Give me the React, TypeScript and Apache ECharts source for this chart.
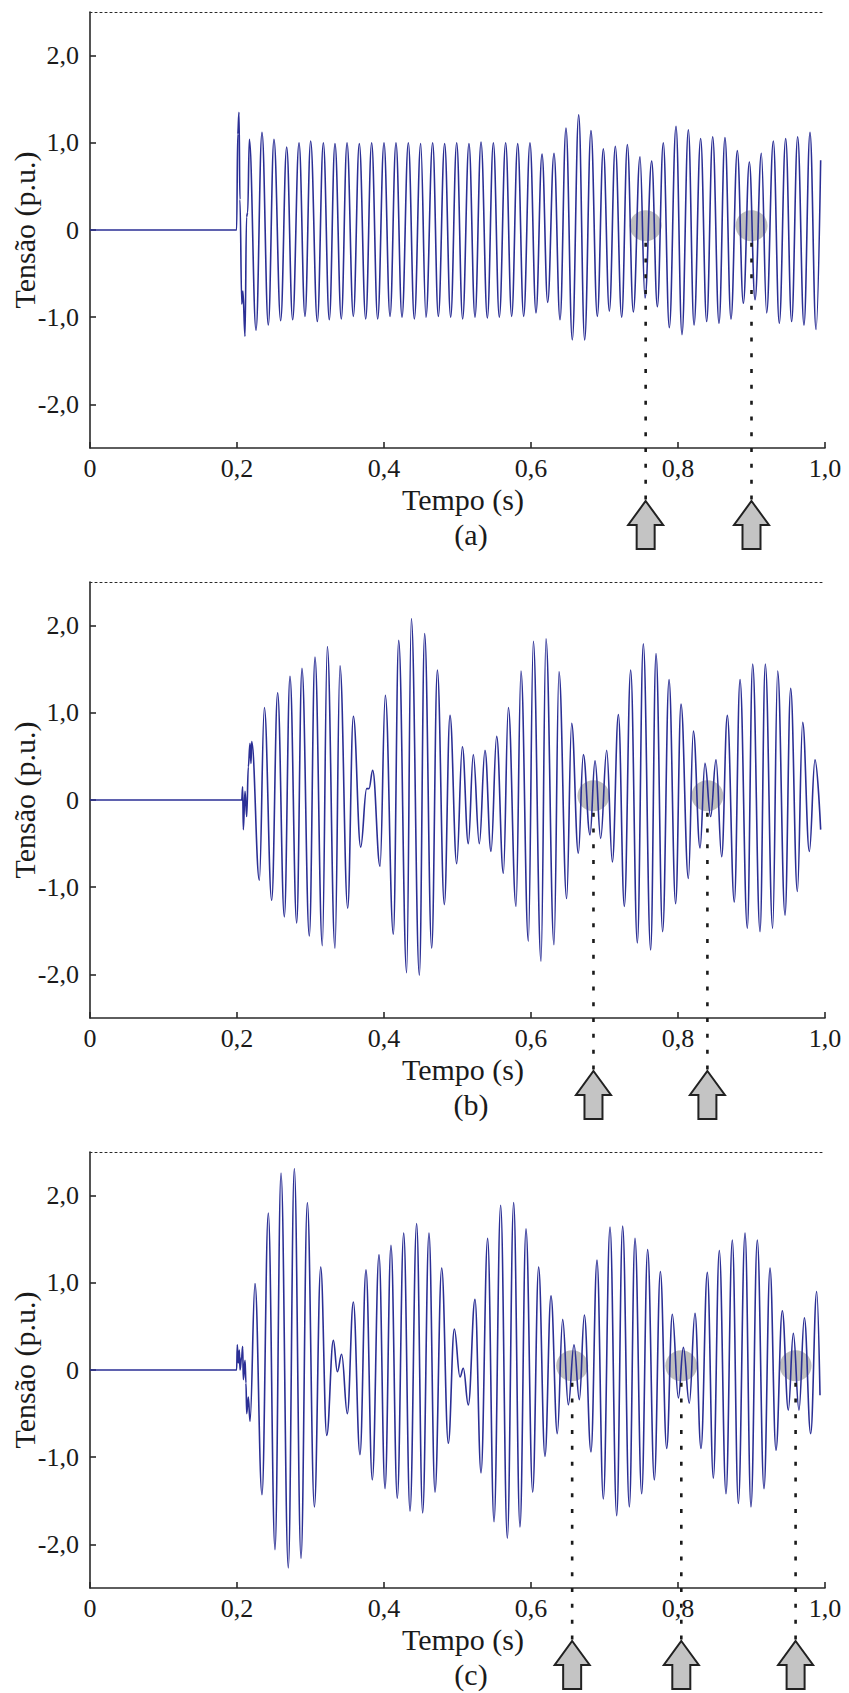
import React, { useEffect, useRef } from "react";
import * as echarts from "echarts";

// Waveform (a): instants of the extrema (ms) and the voltage there (p.u.)
const timeA = [
  0, 199.5, 201.0, 202.7, 204.0, 206.5, 208.0, 210.9, 213.0, 214.5,
  216.8, 225.9, 234.0, 242.6, 250.3, 259.4, 267.6, 275.7, 284.4, 292.5,
  300.2, 309.3, 317.5, 325.6, 333.3, 341.9, 349.7, 358.3, 366.4, 375.1,
  383.2, 391.4, 400.0, 408.2, 416.3, 424.5, 433.1, 441.3, 449.9, 457.1,
  466.2, 473.9, 482.5, 490.7, 498.9, 507.0, 515.6, 523.8, 532.0, 540.6,
  548.8, 556.9, 565.5, 573.7, 581.9, 590.0, 598.6, 606.8, 615.0, 622.7,
  631.3, 639.5, 647.6, 656.2, 664.9, 673.0, 681.6, 690.2, 698.4, 706.6,
  714.7, 723.4, 731.1, 739.2, 748.3, 755.1, 764.2, 771.9, 780.0, 788.2,
  797.3, 805.4, 814.1, 821.8, 830.8, 839.0, 847.2, 855.8, 863.9, 872.1,
  880.7, 888.9, 897.1, 904.8, 913.4, 920.6, 929.7, 937.8, 946.5, 954.6,
  962.8, 971.4, 979.6, 987.8, 994.1,
];
const voltA = [
  0, 0, 1.1, 1.35, 0.35, -0.85, -0.7, -1.22, 0.15, 0.2,
  1.04, -1.15, 1.12, -1.09, 1.04, -1.04, 0.95, -1.03, 1.0, -0.99,
  1.02, -1.05, 1.0, -1.03, 0.99, -1.02, 1.0, -0.99, 0.99, -1.02,
  1.0, -1.02, 1.0, -0.99, 1.0, -1.0, 1.0, -1.02, 0.99, -1.0,
  1.0, -0.99, 0.99, -1.0, 1.0, -1.02, 0.99, -1.0, 1.01, -1.01,
  1.0, -1.0, 1.0, -0.99, 0.99, -0.99, 1.0, -0.95, 0.87, -0.83,
  0.88, -1.03, 1.17, -1.26, 1.32, -1.26, 1.14, -0.99, 0.93, -0.93,
  0.96, -1.0, 0.98, -0.94, 0.84, -0.78, 0.79, -0.88, 1.0, -1.12,
  1.19, -1.2, 1.15, -1.09, 1.05, -1.05, 1.07, -1.07, 1.06, -1.02,
  0.91, -0.84, 0.78, -0.8, 0.88, -0.95, 1.02, -1.07, 1.05, -1.05,
  1.07, -1.09, 1.12, -1.14, 0.8,
];

// Waveform (b)
const timeB = [
  0, 206.4, 207.7, 208.6, 210.9, 213.2, 215.4, 217.7, 219.0, 220.0,
  230.4, 237.2, 247.2, 255.3, 264.4, 272.1, 281.2, 288.4, 298.4, 306.1,
  316.1, 322.9, 333.3, 340.1, 350.6, 358.3, 368.3, 376.4, 379.6, 384.6,
  394.6, 401.8, 412.7, 420.0, 430.8, 437.2, 448.1, 455.3, 464.9, 472.6,
  482.1, 489.8, 498.9, 506.6, 514.7, 521.5, 529.7, 537.4, 545.6, 553.3,
  562.4, 569.2, 579.6, 586.4, 596.4, 603.2, 613.6, 620.4, 631.3, 638.1,
  648.5, 655.3, 664.4, 671.2, 680.3, 687.1, 694.8, 703.0, 710.7, 718.9,
  727.0, 735.6, 744.7, 752.8, 762.8, 770.1, 779.1, 787.8, 796.8, 804.1,
  814.1, 820.9, 830.0, 836.7, 844.4, 851.7, 859.4, 867.1, 876.6, 884.4,
  894.3, 901.6, 911.6, 918.8, 928.8, 935.6, 945.6, 953.3, 962.4, 969.6,
  978.7, 986.4, 994.1,
];
const voltB = [
  0, 0, 0.15, -0.34, 0.1, -0.19, 0.38, 0.65, 0.42, 0.67,
  -0.92, 1.06, -1.15, 1.23, -1.34, 1.42, -1.41, 1.51, -1.56, 1.64,
  -1.67, 1.76, -1.7, 1.54, -1.24, 0.96, -0.54, 0.13, 0.13, 0.34,
  -0.76, 1.2, -1.54, 1.83, -1.98, 2.08, -2.01, 1.91, -1.7, 1.49,
  -1.2, 0.97, -0.73, 0.61, -0.5, 0.52, -0.5, 0.57, -0.59, 0.73,
  -0.84, 1.06, -1.22, 1.48, -1.62, 1.82, -1.85, 1.85, -1.66, 1.47,
  -1.13, 0.88, -0.61, 0.52, -0.4, 0.45, -0.44, 0.57, -0.71, 0.98,
  -1.22, 1.49, -1.64, 1.79, -1.72, 1.68, -1.51, 1.38, -1.19, 1.1,
  -0.9, 0.79, -0.55, 0.42, -0.19, 0.46, -0.65, 0.97, -1.17, 1.38,
  -1.47, 1.56, -1.51, 1.56, -1.47, 1.48, -1.32, 1.28, -1.05, 0.89,
  -0.59, 0.46, -0.34,
];

// Waveform (c)
const timeC = [
  0, 199.5, 200.4, 201.8, 203.2, 204.1, 206.3, 207.7, 208.6, 210.9,
  212.2, 213.2, 215.4, 217.7,
  224.5, 234.0, 242.6, 251.7, 259.9, 269.8, 278.0, 287.1, 295.7, 305.3,
  313.9, 322.1, 331.1, 336.5, 342.4, 350.1, 358.3, 367.3, 375.5, 384.1,
  393.2, 401.4, 409.5, 418.1, 426.8, 435.4, 444.4, 452.6, 461.2, 469.4,
  478.5, 487.5, 495.7, 503.4, 507.9, 514.7, 523.8, 532.0, 541.0, 549.7,
  558.7, 567.8, 576.4, 585.0, 593.2, 602.3, 610.4, 619.0, 627.2, 635.8,
  643.1, 650.8, 658.5, 665.8, 672.6, 681.6, 689.8, 698.4, 707.5, 716.6,
  724.7, 733.8, 741.5, 750.6, 758.7, 767.8, 776.0, 784.6, 792.3, 800.5,
  807.3, 815.4, 823.1, 831.3, 839.9, 848.1, 856.2, 865.3, 873.9, 882.1,
  891.2, 899.3, 907.9, 917.0, 925.2, 933.3, 941.9, 950.1, 956.9, 964.6,
  971.9, 980.5, 988.7, 993.2,
];
const voltC = [
  0, 0, 0.29, 0.08, 0.23, 0.0, 0.15, 0.27, -0.11, 0.11,
  -0.15, -0.5, -0.31, -0.59,
  0.99, -1.43, 1.8, -2.06, 2.26, -2.27, 2.31, -2.16, 1.92, -1.57,
  1.18, -0.75, 0.34, -0.02, 0.18, -0.5, 0.78, -0.97, 1.15, -1.26,
  1.32, -1.36, 1.43, -1.47, 1.57, -1.62, 1.68, -1.64, 1.57, -1.4,
  1.17, -0.84, 0.47, -0.08, 0.02, -0.4, 0.81, -1.18, 1.51, -1.74,
  1.89, -1.93, 1.92, -1.8, 1.62, -1.4, 1.18, -0.99, 0.85, -0.73,
  0.58, -0.4, 0.29, -0.34, 0.63, -0.94, 1.26, -1.48, 1.64, -1.67,
  1.65, -1.57, 1.51, -1.42, 1.38, -1.26, 1.13, -0.9, 0.64, -0.32,
  0.26, -0.38, 0.65, -0.9, 1.12, -1.24, 1.37, -1.42, 1.49, -1.53,
  1.57, -1.57, 1.49, -1.36, 1.17, -0.92, 0.68, -0.46, 0.42, -0.46,
  0.6, -0.73, 0.9, -0.29,
];

// Instants pointed out by the arrows (s)
const markA = [0.756, 0.9];
const markB = [0.685, 0.84];
const markC = [0.656, 0.8045, 0.96];

const panelLetters = ["(a)", "(b)", "(c)"];
const yTickValues = [-2, -1, 0, 1, 2];
const xAxisTitle = "Tempo (s)";
const yAxisTitle = "Tensão (p.u.)";

const GRID_LEFT = 90;
const GRID_WIDTH = 735;
const GRID_HEIGHT = 436;
const GRID_TOPS = [12, 582, 1152];
const WAVE_COLOR = "#2B2F95";
const AXIS_COLOR = "#2a2a2a";
const TEXT_COLOR = "#1a1a1a";
const FONT = "Liberation Serif";
const TICK_FONT_SIZE = 26;
const TITLE_FONT_SIZE = 30;

const fmt = (v: number) => (Math.abs(v) < 1e-9 ? "0" : v.toFixed(1).replace(".", ","));

const panels = [
  { t: timeA, v: voltA, marks: markA },
  { t: timeB, v: voltB, marks: markB },
  { t: timeC, v: voltC, marks: markC },
];

export default function App() {
  const ref = useRef<HTMLDivElement>(null);

  useEffect(() => {
    if (!ref.current) return;
    const chart = echarts.init(ref.current, undefined, { renderer: "svg" });

    const axisLineStyle = { color: AXIS_COLOR, width: 1.6 };
    const labelStyle = { fontFamily: FONT, fontSize: TICK_FONT_SIZE, color: TEXT_COLOR };

    const option: any = {
      animation: false,
      textStyle: { fontFamily: FONT },
      grid: GRID_TOPS.map((top) => ({
        left: GRID_LEFT,
        top,
        width: GRID_WIDTH,
        height: GRID_HEIGHT,
        containLabel: false,
      })),
      xAxis: GRID_TOPS.flatMap((_, i) => [
        {
          type: "value",
          gridIndex: i,
          position: "bottom",
          min: 0,
          max: 1,
          interval: 0.2,
          axisLine: { show: true, onZero: false, lineStyle: axisLineStyle },
          axisTick: { show: true, inside: true, length: 6, lineStyle: axisLineStyle },
          axisLabel: { ...labelStyle, margin: 7, formatter: fmt },
          splitLine: { show: false },
        },
        {
          type: "value",
          gridIndex: i,
          position: "top",
          min: 0,
          max: 1,
          axisLine: {
            show: true,
            onZero: false,
            lineStyle: { color: AXIS_COLOR, width: 1.1, type: [2, 3] },
          },
          axisTick: { show: false },
          axisLabel: { show: false },
          splitLine: { show: false },
        },
      ]),
      yAxis: GRID_TOPS.map((_, i) => ({
        type: "value",
        gridIndex: i,
        position: "left",
        min: -2.5,
        max: 2.5,
        axisLine: { show: true, onZero: false, lineStyle: axisLineStyle },
        axisTick: {
          show: true,
          inside: true,
          length: 6,
          customValues: yTickValues,
          lineStyle: axisLineStyle,
        },
        axisLabel: { ...labelStyle, margin: 11, customValues: yTickValues, formatter: fmt },
        splitLine: { show: false },
      })),
      series: panels.map((p, i) => ({
        type: "line",
        xAxisIndex: i * 2,
        yAxisIndex: i,
        data: p.t.map((ms, k) => [ms / 1000, p.v[k]]),
        symbol: "none",
        showSymbol: false,
        smooth: 0.4,
        smoothMonotone: "x",
        lineStyle: { color: WAVE_COLOR, width: 1.6 },
        z: 3,
      })),
    };
    chart.setOption(option);

    const textStyle = (text: string, size: number) => ({
      text,
      fontFamily: FONT,
      fontSize: size,
      fill: TEXT_COLOR,
      align: "center",
      verticalAlign: "middle",
      textAlign: "center",
      textVerticalAlign: "middle",
    });

    const graphics: any[] = [];
    panels.forEach((p, i) => {
      const top = GRID_TOPS[i];
      const bottom = top + GRID_HEIGHT;
      graphics.push({
        type: "text",
        x: 24,
        y: top + GRID_HEIGHT / 2,
        rotation: Math.PI / 2,
        z: 10,
        style: textStyle(yAxisTitle, TITLE_FONT_SIZE),
      });
      graphics.push({
        type: "text",
        x: 463,
        y: bottom + 51,
        z: 10,
        style: textStyle(xAxisTitle, TITLE_FONT_SIZE),
      });
      graphics.push({
        type: "text",
        x: 471,
        y: bottom + 86,
        z: 10,
        style: textStyle(panelLetters[i], TITLE_FONT_SIZE),
      });

      p.marks.forEach((t) => {
        const [x, yc] = chart.convertToPixel({ seriesIndex: i }, [t, 0.05]) as number[];
        const [, yb] = chart.convertToPixel({ seriesIndex: i }, [t, -2.5]) as number[];
        const tip = yb + 53;
        graphics.push({
          type: "ellipse",
          z: 1,
          shape: { cx: x, cy: yc, rx: 16, ry: 15.5 },
          style: { fill: "rgba(172,172,172,0.8)" },
        });
        graphics.push({
          type: "line",
          z: 10,
          shape: { x1: x, y1: yc + 17, x2: x, y2: tip },
          style: { stroke: "#1a1a1a", lineWidth: 2.6, lineDash: [4, 11.8] },
        });
        graphics.push({
          type: "polygon",
          z: 10,
          shape: {
            points: [
              [x, tip],
              [x + 17.5, tip + 24],
              [x + 9, tip + 24],
              [x + 9, tip + 48],
              [x - 9, tip + 48],
              [x - 9, tip + 24],
              [x - 17.5, tip + 24],
            ],
          },
          style: { fill: "#C4C4C4", stroke: "#222222", lineWidth: 2 },
        });
      });
    });
    chart.setOption({ graphic: graphics });

    return () => {
      chart.dispose();
    };
  }, []);

  return (
    <div
      ref={ref}
      style={{ position: "absolute", left: 0, top: 0, width: 849, height: 1693 }}
    />
  );
}
